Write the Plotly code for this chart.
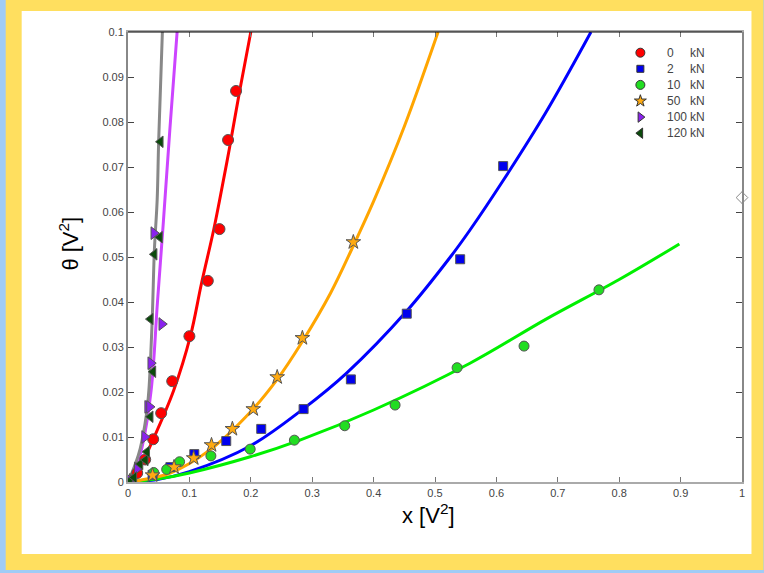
import plotly.graph_objects as go

# ---------------- data ----------------
legend_nums = ["0", "2", "10", "50", "100", "120"]
legend_unit = "kN"

# measured points
x0 = [0.003, 0.015, 0.028, 0.041, 0.054, 0.072, 0.100, 0.130, 0.149, 0.163, 0.176]
y0 = [0.0003, 0.002, 0.005, 0.0095, 0.0153, 0.0224, 0.0324, 0.0447, 0.0562, 0.0760, 0.0869]

x2 = [0.005, 0.040, 0.069, 0.108, 0.160, 0.217, 0.286, 0.363, 0.454, 0.541, 0.611]
y2 = [0.0004, 0.0016, 0.0033, 0.0062, 0.0091, 0.0118, 0.0162, 0.0228, 0.0374, 0.0495, 0.0702]

x10 = [0.003, 0.042, 0.063, 0.084, 0.135, 0.199, 0.271, 0.353, 0.435, 0.536, 0.645, 0.767]
y10 = [0.0002, 0.0021, 0.0028, 0.0045, 0.0058, 0.0073, 0.0093, 0.0125, 0.0171, 0.0254, 0.0302, 0.0427]

x50 = [0.003, 0.040, 0.075, 0.107, 0.136, 0.170, 0.204, 0.243, 0.284, 0.367]
y50 = [0.0002, 0.0015, 0.0033, 0.0053, 0.0082, 0.0118, 0.0162, 0.0233, 0.0320, 0.0533]

x100 = [0.003, 0.015, 0.027, 0.032, 0.035, 0.037, 0.055, 0.042]
y100 = [0.0003, 0.003, 0.0100, 0.0167, 0.0167, 0.0264, 0.0351, 0.0553]

x120 = [0.003, 0.010, 0.020, 0.0285, 0.031, 0.0366, 0.041, 0.0366, 0.043, 0.0518, 0.053]
y120 = [0.0003, 0.001, 0.004, 0.0049, 0.0067, 0.0145, 0.0245, 0.0362, 0.0506, 0.0544, 0.0756]

# fitted curves
fx0 = [0, 0.020, 0.041, 0.0745, 0.1016, 0.1195, 0.1395, 0.149, 0.165, 0.182, 0.200]
fy0 = [0, 0.0035, 0.0095, 0.0204, 0.0324, 0.0440, 0.0560, 0.0625, 0.0740, 0.0870, 0.1000]

fx2 = [0, 0.050, 0.100, 0.199, 0.285, 0.356, 0.454, 0.525, 0.557, 0.611, 0.680, 0.754]
fy2 = [0, 0.0006, 0.0023, 0.0080, 0.0162, 0.0242, 0.0380, 0.0500, 0.0560, 0.0670, 0.0820, 0.1000]

fx10 = [0, 0.050, 0.100, 0.199, 0.280, 0.400, 0.557, 0.681, 0.800, 0.898]
fy10 = [0, 0.0007, 0.0020, 0.0056, 0.0093, 0.0160, 0.0264, 0.0362, 0.0450, 0.0529]

fx50 = [0, 0.020, 0.069, 0.134, 0.199, 0.243, 0.283, 0.330, 0.367, 0.401, 0.450, 0.505]
fy50 = [0, 0.0004, 0.0020, 0.0072, 0.0155, 0.0228, 0.0310, 0.0420, 0.0525, 0.0627, 0.0790, 0.1000]

fx100 = [0, 0.010, 0.023, 0.0377, 0.048, 0.0577, 0.068, 0.080]
fy100 = [0, 0.002, 0.0078, 0.0204, 0.0400, 0.0580, 0.0780, 0.1000]

fx120 = [0, 0.012, 0.020, 0.030, 0.034, 0.0394, 0.0430, 0.0475, 0.0500, 0.0560]
fy120 = [0, 0.004, 0.0075, 0.0150, 0.0204, 0.0360, 0.0516, 0.0627, 0.0760, 0.1000]

# stray open diamond on the right frame
xd = [1.0]
yd = [0.0632]

xticks = [0, 0.1, 0.2, 0.3, 0.4, 0.5, 0.6, 0.7, 0.8, 0.9, 1]
xticktext = ["0", "0.1", "0.2", "0.3", "0.4", "0.5", "0.6", "0.7", "0.8", "0.9", "1"]
yticks = [0, 0.01, 0.02, 0.03, 0.04, 0.05, 0.06, 0.07, 0.08, 0.09, 0.1]
yticktext = ["0", "0.01", "0.02", "0.03", "0.04", "0.05", "0.06", "0.07", "0.08", "0.09", "0.1"]

# ---------------- figure ----------------
W, H = 764, 573
ML, MR, MT, MB = 127.5, 21.5, 32, 91
PW, PH = W - ML - MR, H - MT - MB


def px(x):
    return (x - ML) / PW


def py(y):
    return (H - MB - y) / PH


fig = go.Figure()

line_colors = ["#ff0000", "#0000ff", "#00f000", "#ffa500", "#cc44ff", "#888888"]
fits = [(fx0, fy0), (fx2, fy2), (fx10, fy10), (fx50, fy50), (fx100, fy100), (fx120, fy120)]
for (fx, fy), c in zip(fits, line_colors):
    fig.add_trace(go.Scatter(x=fx, y=fy, mode="lines", line=dict(color=c, width=3, shape="spline"),
                             showlegend=False, hoverinfo="skip"))

pts = [(x0, y0), (x2, y2), (x10, y10), (x50, y50), (x100, y100), (x120, y120)]
mcolors = ["#ff0000", "#0000ee", "#22dd22", "#ffaa11", "#8a22ee", "#0b4a0b"]
msyms = ["circle", "square", "circle", "star", "triangle-right", "triangle-left"]
msizes = [11, 9, 10, 11, 11, 10]
for (xs, ys), c, s, sz in zip(pts, mcolors, msyms, msizes):
    fig.add_trace(go.Scatter(x=xs, y=ys, mode="markers", showlegend=False,
                             marker=dict(color=c, symbol=s, size=sz,
                                         line=dict(color="#555555", width=1))))

fig.add_trace(go.Scatter(x=xd, y=yd, mode="markers", showlegend=False, cliponaxis=False,
                         marker=dict(symbol="diamond-open", size=9, color="#888888", line=dict(width=1))))

# hand-built legend (overlay axis in plot-fraction units)
row_y = [py(52.7 + 16.1 * i) for i in range(len(legend_nums))]
leg_sizes = [9, 7, 9, 9, 9, 9]
fig.add_trace(go.Scatter(x=[px(640.7)] * len(legend_nums), y=row_y, mode="markers",
                         xaxis="x2", yaxis="y2", showlegend=False, cliponaxis=False, hoverinfo="skip",
                         marker=dict(color=mcolors, symbol=msyms, size=leg_sizes, opacity=1,
                                     line=dict(color="#333333", width=1))))

annotations = []
for num, yy in zip(legend_nums, row_y):
    annotations.append(dict(text=num, xref="paper", yref="paper", x=px(665), y=yy, xanchor="left",
                            yanchor="middle", showarrow=False,
                            font=dict(family="Liberation Sans", size=12, color="#444444")))
    annotations.append(dict(text=legend_unit, xref="paper", yref="paper", x=px(688), y=yy, xanchor="left",
                            yanchor="middle", showarrow=False,
                            font=dict(family="Liberation Sans", size=12, color="#444444")))

annotations += [
    dict(text="x [V<sup>2</sup>]", xref="paper", yref="paper", x=px(428), y=py(530),
         showarrow=False, font=dict(family="Liberation Sans", size=22, color="#000000")),
    dict(text="θ [V<sup>2</sup>]", xref="paper", yref="paper", x=px(52), y=py(244),
         showarrow=False, textangle=-90, font=dict(family="Liberation Sans", size=22, color="#000000")),
]

shapes = [
    dict(type="rect", xref="paper", yref="paper", x0=px(5), x1=px(W), y0=py(570), y1=py(0),
         fillcolor="#ffdf5f", line=dict(width=0), layer="below"),
    dict(type="rect", xref="paper", yref="paper", x0=px(21), x1=px(752), y0=py(554), y1=py(11),
         fillcolor="#ffffff", line=dict(width=0), layer="below"),
    dict(type="line", xref="paper", yref="paper", x0=0, x1=1, y0=1, y1=1,
         line=dict(color="#000000", width=1.2)),
]

fig.update_layout(
    width=W, height=H,
    margin=dict(l=ML, r=MR, t=MT, b=MB),
    paper_bgcolor="#a0ccf6",
    plot_bgcolor="#ffffff",
    shapes=shapes,
    annotations=annotations,
    showlegend=False,
    xaxis=dict(range=[0, 1], tickvals=xticks, ticktext=xticktext, ticks="inside", ticklen=5,
               tickcolor="#777777", showgrid=False, zeroline=False, showline=True, linecolor="#aaaaaa",
               linewidth=1.5, mirror="ticks",
               tickfont=dict(family="Liberation Sans", size=11, color="#444444")),
    yaxis=dict(range=[0, 0.1], tickvals=yticks, ticktext=yticktext, ticks="inside", ticklen=6,
               tickcolor="#444444", showgrid=False, zeroline=False, showline=True, linecolor="#888888",
               linewidth=2, mirror="ticks",
               tickfont=dict(family="Liberation Sans", size=11, color="#444444")),
    xaxis2=dict(range=[0, 1], overlaying="x", visible=False, fixedrange=True),
    yaxis2=dict(range=[0, 1], overlaying="y", visible=False, fixedrange=True),
)

fig.write_html("out.html")
